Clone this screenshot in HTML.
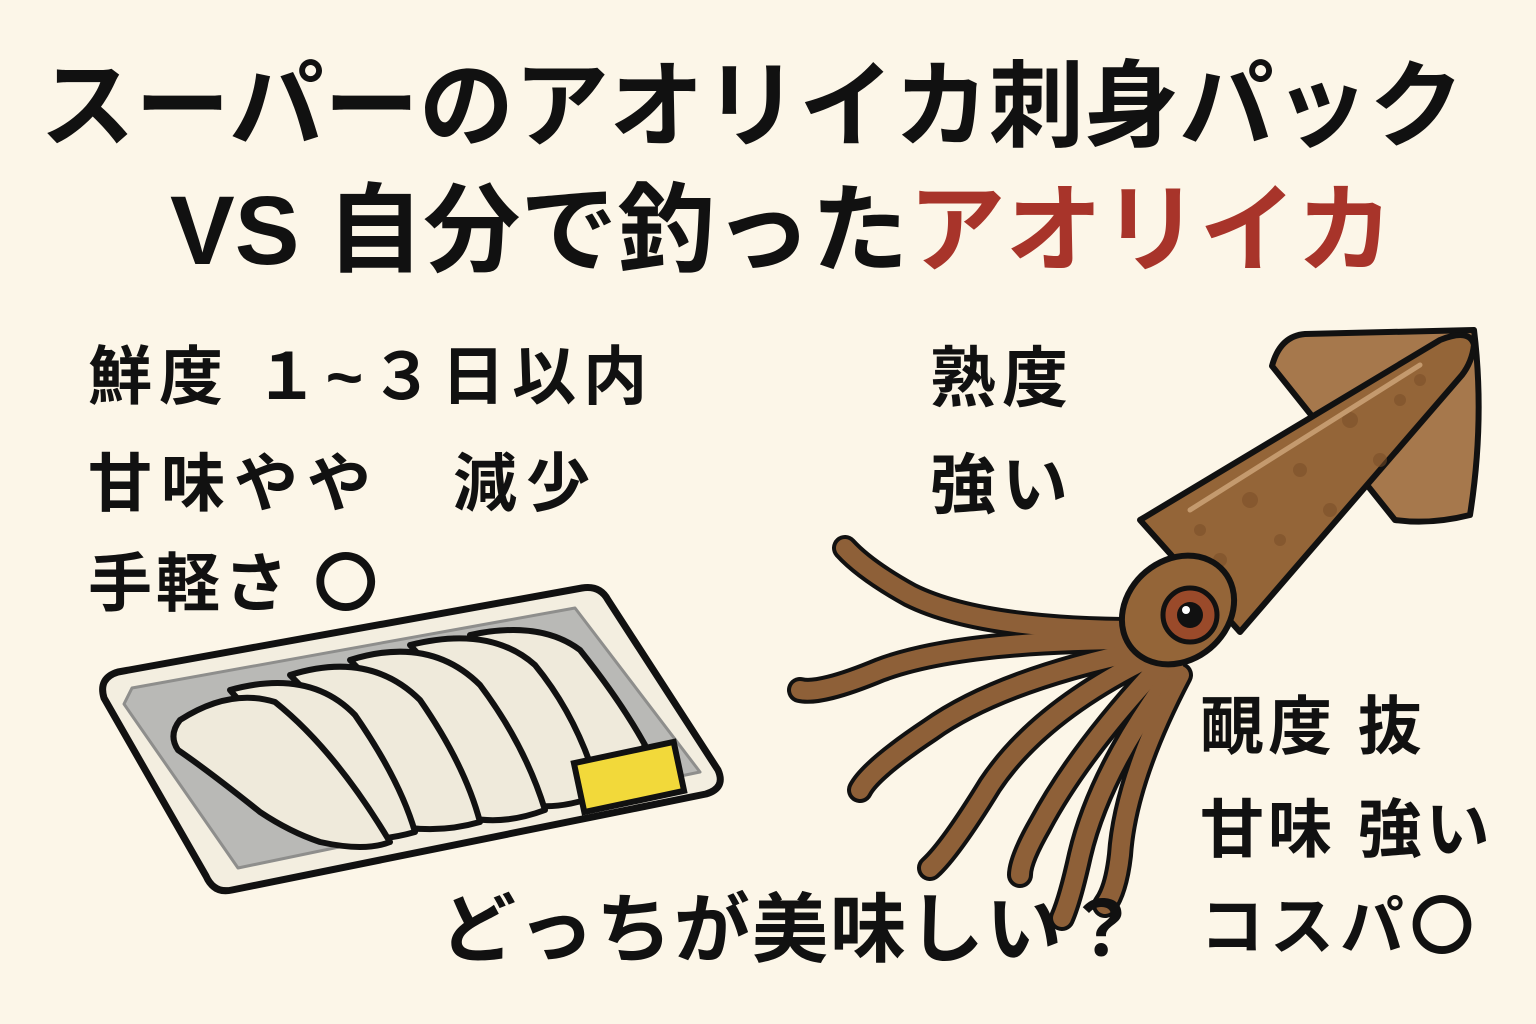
<!DOCTYPE html>
<html><head><meta charset="utf-8"><style>
body{margin:0;width:1536px;height:1024px;background:#fcf6e8;overflow:hidden;position:relative;font-family:"Liberation Sans","Noto Sans CJK JP",sans-serif;font-weight:700;color:#111}
.t{position:absolute;white-space:nowrap;line-height:1}
</style></head><body>
<svg width="1536" height="1024" style="position:absolute;left:0;top:0">
<path d="M118,672 L582,588 Q600,585 608,600 L718,770 Q726,788 706,794 L232,890 Q214,894 206,876 L104,698 Q98,678 118,672 Z" fill="#f3eee0" stroke="#111" stroke-width="7" stroke-linejoin="round"/>
<path d="M132,688 L575,608 L700,772 L238,868 L124,704 Z" fill="#b9b9b6" stroke="#8e8e8c" stroke-width="3" stroke-linejoin="round"/>
<g fill="#efeadb" stroke="#111" stroke-width="6" stroke-linejoin="round">
<path d="M470,635 Q540,620 580,650 Q620,700 645,745 L620,790 Q570,795 540,770 Z"/>
<path d="M410,645 Q490,625 535,665 Q580,720 600,795 Q560,810 530,805 Q490,730 410,645 Z"/>
<path d="M350,660 Q430,635 480,685 Q525,745 545,810 Q505,825 470,818 Q430,740 350,660 Z"/>
<path d="M290,675 Q370,650 420,700 Q465,765 480,822 Q445,832 410,828 Q365,750 290,675 Z"/>
<path d="M230,690 Q310,668 355,715 Q400,780 415,832 Q380,842 350,838 Q300,770 230,690 Z"/>
<path d="M180,720 Q230,688 275,702 Q335,750 390,842 Q365,852 320,842 Q290,832 260,812 Q210,772 178,750 Q168,735 180,720 Z"/>
</g>
<rect x="578" y="752" width="102" height="50" fill="#f2d93a" stroke="#111" stroke-width="6" transform="rotate(-12 629 777)"/>
<path d="M1272,366 Q1280,336 1305,334 L1474,330 Q1485,420 1470,515 Q1430,525 1395,520 Z" fill="#a6784c" stroke="#111" stroke-width="6" stroke-linejoin="round"/>
<g fill="none" stroke-linecap="round">
<g stroke="#111" stroke-width="26">
<path d="M1140,630 Q980,630 910,595 Q865,570 845,548"/>
<path d="M1140,640 Q960,640 880,670 Q820,695 800,690"/>
<path d="M1145,650 Q1000,680 930,730 Q870,770 860,790"/>
<path d="M1155,655 Q1040,710 990,785 Q950,850 930,868"/>
<path d="M1165,660 Q1080,750 1040,825 Q1020,860 1020,875"/>
<path d="M1175,670 Q1100,770 1080,855 Q1070,900 1062,918"/>
<path d="M1180,675 Q1125,780 1120,855 Q1116,890 1105,905"/>
</g>
<g stroke="#8e6038" stroke-width="18">
<path d="M1140,630 Q980,630 910,595 Q865,570 845,548"/>
<path d="M1140,640 Q960,640 880,670 Q820,695 800,690"/>
<path d="M1145,650 Q1000,680 930,730 Q870,770 860,790"/>
<path d="M1155,655 Q1040,710 990,785 Q950,850 930,868"/>
<path d="M1165,660 Q1080,750 1040,825 Q1020,860 1020,875"/>
<path d="M1175,670 Q1100,770 1080,855 Q1070,900 1062,918"/>
<path d="M1180,675 Q1125,780 1120,855 Q1116,890 1105,905"/>
</g>
</g>
<path d="M1140,520 L1440,340 Q1470,328 1474,345 Q1472,362 1462,375 L1240,632 Z" fill="#946538" stroke="#111" stroke-width="6" stroke-linejoin="round"/>
<g fill="#7a4e28" opacity=".55"><circle cx="1250" cy="500" r="8"/><circle cx="1300" cy="470" r="7"/><circle cx="1350" cy="420" r="8"/><circle cx="1330" cy="510" r="7"/><circle cx="1220" cy="560" r="7"/><circle cx="1400" cy="400" r="6"/><circle cx="1280" cy="540" r="6"/><circle cx="1380" cy="460" r="7"/><circle cx="1200" cy="530" r="6"/><circle cx="1420" cy="380" r="6"/></g>
<path d="M1190,510 L1420,365" stroke="#c49a6e" stroke-width="5" stroke-linecap="round"/>
<ellipse cx="1178" cy="610" rx="60" ry="50" transform="rotate(-40 1178 610)" fill="#946538" stroke="#111" stroke-width="6"/>
<circle cx="1190" cy="615" r="27" fill="#9a4a2a" stroke="#111" stroke-width="5"/>
<circle cx="1190" cy="615" r="13" fill="#111"/>
<circle cx="1186" cy="610" r="4" fill="#fff"/>
</svg>
<div class="t" style="left:40px;top:60px;font-size:95px">スーパーのアオリイカ刺身パック</div>
<div class="t" style="left:170px;top:182px;font-size:97px">VS 自分で釣った<span style="color:#a8342a">アオリイカ</span></div>
<div class="t" style="left:88px;top:345px;font-size:64px;letter-spacing:7px">鮮度 １~３日以内</div>
<div class="t" style="left:88px;top:452px;font-size:64px;letter-spacing:9px">甘味やや　減少</div>
<div class="t" style="left:88px;top:552px;font-size:64px;letter-spacing:4px">手軽さ 〇</div>
<div class="t" style="left:930px;top:345px;font-size:66px;letter-spacing:6px">熟度</div>
<div class="t" style="left:930px;top:452px;font-size:66px;letter-spacing:6px">強い</div>
<div class="t" style="left:1200px;top:695px;font-size:64px;letter-spacing:4px">靦度 抜</div>
<div class="t" style="left:1200px;top:798px;font-size:64px;letter-spacing:4px">甘味 強い</div>
<div class="t" style="left:1200px;top:895px;font-size:64px;letter-spacing:6px">コスパ〇</div>
<div class="t" style="left:440px;top:893px;font-size:76px;letter-spacing:2px">どっちが美味しい？</div>
</body></html>
